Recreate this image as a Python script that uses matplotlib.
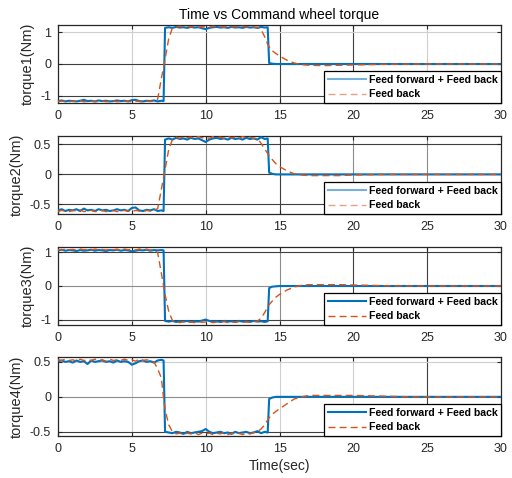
import matplotlib
matplotlib.use('Agg')
import matplotlib.pyplot as plt

plt.rcParams['font.family'] = ['Liberation Sans', 'DejaVu Sans']

# ---------------- data ----------------
t = [0.0, 0.25, 0.5, 0.75, 1.0, 1.25, 1.5, 1.75, 2.0, 2.25, 2.5, 2.75, 3.0, 3.25,
     3.5, 3.75, 4.0, 4.25, 4.5, 4.75, 5.0, 5.25, 5.5, 5.75, 6.0, 6.25, 6.5, 6.75,
     7.0, 7.15, 7.25,
     7.5, 7.75, 8.0, 8.25, 8.5, 8.75, 9.0, 9.25, 9.5, 9.75, 10.0, 10.25, 10.5, 10.75,
     11.0, 11.25, 11.5, 11.75, 12.0, 12.25, 12.5, 12.75, 13.0, 13.25, 13.5, 13.75, 14.0,
     14.2, 14.3, 14.5, 14.75, 15.0, 15.5, 16.0, 16.5, 17.0, 18.0, 19.0, 20.0, 22.0,
     24.0, 26.0, 28.0, 30.0]

ff1 = [-1.16, -1.14, -1.17, -1.15, -1.16, -1.17, -1.15, -1.12, -1.16, -1.15,
       -1.17, -1.14, -1.16, -1.15, -1.17, -1.16, -1.14, -1.16, -1.15, -1.17,
       -1.13, -1.12, -1.16, -1.17, -1.15, -1.16, -1.14, -1.17,
       -1.15, -1.16, 1.13,
       1.15, 1.13, 1.16, 1.14, 1.15, 1.13, 1.16, 1.14, 1.15, 1.12, 1.09,
       1.13, 1.15, 1.16, 1.14, 1.15, 1.13, 1.16, 1.14, 1.15, 1.13, 1.16, 1.14, 1.15, 1.13, 1.16, 1.14,
       1.15, 0.03, 0.01, 0.0, 0.0, 0.0, 0.0, 0.0, 0.0, 0.0, 0.0, 0.0, 0.0, 0.0, 0.0, 0.0, 0.0]
fb1 = [-1.18, -1.16, -1.17, -1.18, -1.16, -1.17, -1.15, -1.18, -1.17, -1.16,
       -1.18, -1.17, -1.16, -1.18, -1.17, -1.16, -1.18, -1.17, -1.16, -1.17,
       -1.18, -1.16, -1.17, -1.18, -1.16, -1.17, -1.16, -1.10,
       -0.45, -0.10, 0.15,
       0.80, 1.13, 1.16, 1.18, 1.15, 1.17, 1.16, 1.18, 1.15, 1.17, 1.16, 1.15,
       1.18, 1.16, 1.17, 1.15, 1.18, 1.16, 1.17, 1.15, 1.18, 1.16, 1.17, 1.15, 1.15, 1.08, 0.85,
       0.62, 0.54, 0.42, 0.33, 0.25, 0.12, 0.03, -0.02, -0.04, -0.05, -0.04, -0.03, -0.01, 0.0, 0.0, 0.0, 0.0]

ff2 = [-0.60, -0.58, -0.61, -0.59, -0.60, -0.58, -0.61, -0.57, -0.60, -0.59,
       -0.61, -0.58, -0.60, -0.59, -0.61, -0.60, -0.58, -0.60, -0.59, -0.61,
       -0.56, -0.55, -0.60, -0.61, -0.59, -0.60, -0.58, -0.61,
       -0.60, -0.61, 0.58,
       0.60, 0.58, 0.61, 0.59, 0.60, 0.58, 0.61, 0.59, 0.60, 0.57, 0.54,
       0.58, 0.60, 0.61, 0.59, 0.60, 0.58, 0.61, 0.59, 0.60, 0.58, 0.61, 0.59, 0.60, 0.58, 0.62, 0.59,
       0.60, 0.03, 0.01, 0.0, 0.0, 0.0, 0.0, 0.0, 0.0, 0.0, 0.0, 0.0, 0.0, 0.0, 0.0, 0.0, 0.0]
fb2 = [-0.62, -0.60, -0.61, -0.62, -0.60, -0.61, -0.59, -0.62, -0.61, -0.60,
       -0.62, -0.61, -0.60, -0.62, -0.61, -0.60, -0.62, -0.61, -0.60, -0.61,
       -0.62, -0.60, -0.61, -0.62, -0.60, -0.61, -0.60, -0.57,
       -0.25, -0.05, 0.08,
       0.42, 0.58, 0.62, 0.60, 0.63, 0.61, 0.62, 0.60, 0.63, 0.61, 0.62, 0.60,
       0.63, 0.61, 0.62, 0.60, 0.63, 0.61, 0.62, 0.60, 0.63, 0.61, 0.62, 0.60, 0.60, 0.52, 0.42,
       0.35, 0.31, 0.25, 0.18, 0.13, 0.06, 0.01, -0.01, -0.02, -0.02, -0.02, -0.01, 0.0, 0.0, 0.0, 0.0, 0.0]

ff3 = [1.05, 1.07, 1.04, 1.06, 1.05, 1.03, 1.06, 1.04, 1.05, 1.07,
       1.04, 1.06, 1.05, 1.03, 1.06, 1.05, 1.07, 1.04, 1.06, 1.05,
       1.02, 1.04, 1.06, 1.05, 1.07, 1.04, 1.06, 1.05,
       1.06, 1.05, -1.03,
       -1.05, -1.03, -1.06, -1.04, -1.05, -1.03, -1.06, -1.04, -1.05, -1.02, -0.99,
       -1.03, -1.05, -1.04, -1.06, -1.03, -1.05, -1.04, -1.06, -1.03, -1.05, -1.04, -1.06, -1.03, -1.05, -1.04, -1.06,
       -1.04, -0.06, -0.02, -0.01, 0.0, 0.0, 0.0, 0.0, 0.0, 0.0, 0.0, 0.0, 0.0, 0.0, 0.0, 0.0, 0.0]
fb3 = [1.08, 1.06, 1.09, 1.07, 1.08, 1.06, 1.09, 1.07, 1.08, 1.06,
       1.09, 1.07, 1.08, 1.06, 1.09, 1.07, 1.08, 1.06, 1.09, 1.07,
       1.08, 1.06, 1.09, 1.07, 1.08, 1.06, 1.07, 0.98,
       0.38, 0.0, -0.25,
       -0.75, -1.02, -1.06, -1.08, -1.05, -1.07, -1.06, -1.08, -1.05, -1.07, -1.06, -1.05,
       -1.08, -1.06, -1.07, -1.05, -1.08, -1.06, -1.07, -1.05, -1.08, -1.06, -1.07, -1.05, -1.04, -0.95, -0.78,
       -0.62, -0.55, -0.45, -0.33, -0.25, -0.12, -0.03, 0.02, 0.04, 0.04, 0.04, 0.03, 0.01, 0.0, 0.0, 0.0, 0.0]

ff4 = [0.51, 0.52, 0.50, 0.51, 0.49, 0.52, 0.50, 0.51, 0.47, 0.52,
       0.50, 0.51, 0.52, 0.50, 0.51, 0.49, 0.52, 0.50, 0.51, 0.50,
       0.46, 0.48, 0.51, 0.52, 0.50, 0.51, 0.49, 0.52,
       0.53, 0.52, -0.50,
       -0.51, -0.52, -0.50, -0.51, -0.53, -0.50, -0.52, -0.51, -0.50, -0.49, -0.46,
       -0.50, -0.52, -0.51, -0.50, -0.52, -0.51, -0.53, -0.50, -0.52, -0.51, -0.50, -0.52, -0.51, -0.49, -0.52, -0.50,
       -0.51, -0.03, -0.01, 0.0, 0.0, 0.0, 0.0, 0.0, 0.0, 0.0, 0.0, 0.0, 0.0, 0.0, 0.0, 0.0, 0.0]
fb4 = [0.53, 0.52, 0.54, 0.52, 0.53, 0.51, 0.54, 0.52, 0.53, 0.52,
       0.54, 0.52, 0.53, 0.51, 0.54, 0.52, 0.53, 0.52, 0.54, 0.52,
       0.53, 0.51, 0.54, 0.52, 0.53, 0.52, 0.50, 0.40,
       0.27, -0.02, -0.18,
       -0.40, -0.50, -0.53, -0.52, -0.54, -0.52, -0.53, -0.51, -0.54, -0.52, -0.53, -0.52,
       -0.54, -0.52, -0.53, -0.51, -0.54, -0.52, -0.53, -0.52, -0.54, -0.52, -0.53, -0.51, -0.50, -0.46, -0.40,
       -0.33, -0.30, -0.25, -0.21, -0.17, -0.10, -0.03, 0.0, 0.02, 0.02, 0.02, 0.02, 0.01, 0.0, 0.0, 0.0, 0.0]

ff_series = [ff1, ff2, ff3, ff4]
fb_series = [fb1, fb2, fb3, fb4]
ylabels = ['torque1(Nm)', 'torque2(Nm)', 'torque3(Nm)', 'torque4(Nm)']
yticks = [[-1, 0, 1], [-0.5, 0, 0.5], [-1, 0, 1], [-0.5, 0, 0.5]]
ytick_labels = [['-1', '0', '1'], ['-0.5', '0', '0.5'], ['-1', '0', '1'], ['-0.5', '0', '0.5']]
ylims = [(-1.22, 1.22), (-0.66, 0.64), (-1.15, 1.15), (-0.56, 0.57)]
xticks = [0, 5, 10, 15, 20, 25, 30]
legend_labels = ['Feed forward + Feed back', 'Feed back']
title = 'Time vs Command wheel torque'
xlabel = 'Time(sec)'

# ---------------- styling ----------------
BLUE = '#0072BD'
ORANGE = '#D95319'
AXC = '#262626'
shade = {'L': '#cfcfcf', 'M': '#8c8c8c', 'D': '#3f3f3f'}
vgrid_pattern = ['LDDDL', 'LMDMM', 'LLMDD', 'LLLLD']
hgrid_pattern = ['DDL', 'DDD', 'DMD', 'DML']

W, H = 512, 478
fig = plt.figure(figsize=(W / 100, H / 100), dpi=100)
fig.patch.set_facecolor('white')

left_px, right_px = 58, 501
tops_px = [25, 136, 247, 357]
bots_px = [103, 214, 325, 436]

for i in range(4):
    ax = fig.add_axes([left_px / W, 1 - bots_px[i] / H,
                       (right_px - left_px) / W, (bots_px[i] - tops_px[i]) / H])
    ax.plot(t, ff_series[i], color=BLUE, lw=1.5, label=legend_labels[0], zorder=3)
    ax.plot(t, fb_series[i], color=ORANGE, lw=1.0, ls=(0, (5, 3)),
            label=legend_labels[1], zorder=4)
    ax.set_xlim(0, 30)
    ax.set_ylim(*ylims[i])
    ax.set_xticks(xticks)
    ax.set_xticklabels([str(x) for x in xticks])
    ax.set_yticks(yticks[i])
    ax.set_yticklabels(ytick_labels[i])
    ax.tick_params(direction='in', length=3, width=0.8, colors=AXC,
                   labelsize=9, top=True, right=True)
    ax.tick_params(axis='y', pad=5)
    ax.tick_params(axis='x', pad=5)
    for s in ax.spines.values():
        s.set_color(AXC)
        s.set_linewidth(0.9)
    ax.grid(True, lw=0.8)
    ax.set_axisbelow(True)
    # per-line grid shades (rendering of the original)
    for j, g in enumerate(ax.get_xgridlines()):
        if 1 <= j <= 5:
            g.set_color(shade[vgrid_pattern[i][j - 1]])
        else:
            g.set_visible(False)
    for j, g in enumerate(ax.get_ygridlines()):
        g.set_color(shade[hgrid_pattern[i][j]])
    ax.set_ylabel(ylabels[i], fontsize=10.5, color=AXC, labelpad=4)
    leg = ax.legend(loc='lower right', borderaxespad=0,
                    prop={'weight': 'bold', 'size': 7.6},
                    frameon=True, fancybox=False, edgecolor='black', framealpha=1,
                    handlelength=3.6, handletextpad=0.25, labelspacing=0.45,
                    borderpad=0.35)
    leg.get_frame().set_linewidth(0.9)
    leg.set_zorder(10)
    if i < 2:
        for h in leg.get_lines():
            h.set_alpha(0.55)
    if i == 0:
        ax.set_title(title, fontsize=10, color='black', pad=4)
    if i == 3:
        ax.set_xlabel(xlabel, fontsize=10, color=AXC, labelpad=3)

fig.savefig('out.png', dpi=100)
